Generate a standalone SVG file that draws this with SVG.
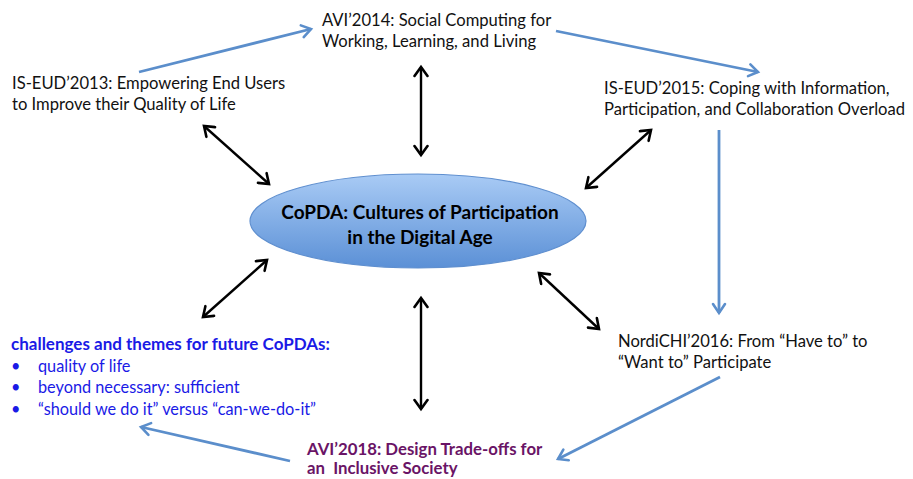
<svg xmlns="http://www.w3.org/2000/svg" width="913" height="479" viewBox="0 0 913 479">
  <defs>
    <linearGradient id="ovalFill" x1="0" y1="0" x2="0" y2="1">
      <stop offset="0" stop-color="#a9cbf5"/>
      <stop offset="1" stop-color="#5b90d6"/>
    </linearGradient>
    <marker id="headBlack" markerUnits="userSpaceOnUse" markerWidth="16" markerHeight="16" viewBox="0 0 16 16" refX="13" refY="8" orient="auto-start-reverse">
      <path d="M4,1.5 L13,8 L4,14.5" fill="none" stroke="#000" stroke-width="2.6" stroke-linecap="round" stroke-linejoin="miter"/>
    </marker>
    <marker id="headBlue" markerUnits="userSpaceOnUse" markerWidth="16" markerHeight="16" viewBox="0 0 16 16" refX="13" refY="8" orient="auto">
      <path d="M4,2 L13,8 L4,14" fill="none" stroke="#5b8ecb" stroke-width="2.6" stroke-linecap="round"/>
    </marker>
  </defs>
  <style>
    text { font-family: Lato, "Open Sans", sans-serif; font-size: 16.6px; fill: #111; }
    .center { font-size: 19px; font-weight: bold; fill: #000; text-anchor: middle; }
    .theme { fill: #1a1ae6; font-size: 16.3px; }
    .heading { font-weight: bold; font-size: 17px; }
    .future { fill: #6a1466; font-weight: bold; font-size: 16.8px; }
    .link { fill: none; stroke: #000; stroke-width: 2.4; marker-start: url(#headBlack); marker-end: url(#headBlack); }
    .flow { fill: none; stroke: #5b8ecb; stroke-width: 2.8; marker-end: url(#headBlue); }
  </style>

  <!-- connectors -->
  <g id="connectors">
    <!-- two-way links to the hub -->
    <line class="link" x1="421" y1="67" x2="421" y2="155"/>
    <line class="link" x1="421" y1="298" x2="421" y2="409"/>
    <line class="link" x1="204" y1="126" x2="269" y2="184"/>
    <line class="link" x1="651" y1="130" x2="586" y2="188"/>
    <line class="link" x1="267" y1="260" x2="203" y2="317"/>
    <line class="link" x1="539" y1="273" x2="599" y2="329"/>
    <!-- chronological sequence -->
    <line class="flow" x1="139" y1="72" x2="311" y2="29"/>
    <line class="flow" x1="556" y1="31" x2="758" y2="72"/>
    <line class="flow" x1="719" y1="130" x2="719" y2="313"/>
    <line class="flow" x1="720" y1="377" x2="558" y2="459"/>
    <line class="flow" x1="290" y1="461" x2="141" y2="427"/>
  </g>

  <g id="copda">
    <ellipse cx="418" cy="221" rx="168" ry="47" fill="url(#ovalFill)" stroke="#5f8fcf" stroke-width="1.2"/>
    <text class="center" x="420" y="219">CoPDA: Cultures of Participation</text>
    <text class="center" x="420" y="244">in the Digital Age</text>
  </g>

  <g id="avi2014">
    <text x="322" y="26">AVI’2014: Social Computing for</text>
    <text x="322" y="47">Working, Learning, and Living</text>
  </g>

  <g id="iseud2013">
    <text x="12" y="89">IS-EUD’2013: Empowering End Users</text>
    <text x="12" y="110">to Improve their Quality of Life</text>
  </g>

  <g id="iseud2015">
    <text x="604" y="94">IS-EUD’2015: Coping with Information,</text>
    <text x="604" y="115">Participation, and Collaboration Overload</text>
  </g>

  <g id="nordichi2016">
    <text x="618" y="347">NordiCHI’2016: From “Have to” to</text>
    <text x="618" y="368">“Want to” Participate</text>
  </g>

  <g id="avi2018">
    <text class="future" x="307" y="455">AVI’2018: Design Trade-offs for</text>
    <text class="future" x="307" y="474" xml:space="preserve">an  Inclusive Society</text>
  </g>

  <g id="challenges">
    <text class="theme heading" x="11" y="350">challenges and themes for future CoPDAs:</text>
    <text class="theme" x="11" y="372">•</text>
    <text class="theme" x="38" y="372">quality of life</text>
    <text class="theme" x="11" y="393">•</text>
    <text class="theme" x="38" y="393">beyond necessary: sufficient</text>
    <text class="theme" x="11" y="415">•</text>
    <text class="theme" x="38" y="415">“should we do it” versus “can-we-do-it”</text>
  </g>
</svg>
